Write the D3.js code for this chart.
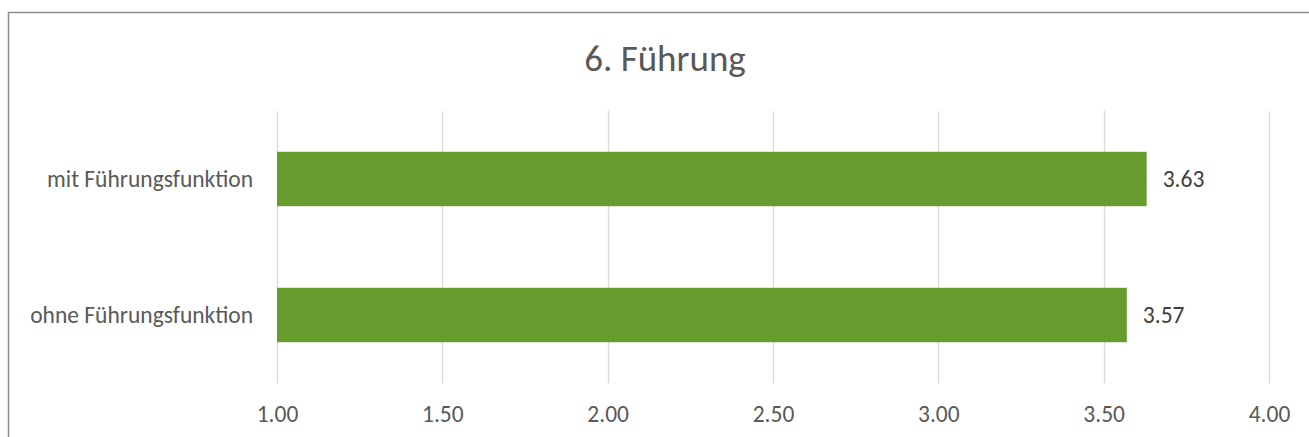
<!DOCTYPE html>
<html><head><meta charset="utf-8">
<script src="https://cdn.jsdelivr.net/npm/d3@7"></script>
<style>body{margin:0;background:#fff;} svg{display:block;} svg text{font-family:Carlito,Calibri,"Open Sans",sans-serif;}</style>
</head><body>
<svg id="c" width="1309" height="437"></svg>
<script>
const categories = ["mit Führungsfunktion", "ohne Führungsfunktion"];
const values = [3.63, 3.57];
const tickValues = [1.0, 1.5, 2.0, 2.5, 3.0, 3.5, 4.0];
const title = "6. Führung";

const svg = d3.select("#c");
svg.append("rect").attr("x", 8.5).attr("y", 12.5).attr("width", 1320).attr("height", 440)
  .attr("fill", "#fff").attr("stroke", "#8c8c8c").attr("stroke-width", 1.5);

const x = d3.scaleLinear().domain([1, 4]).range([277, 1269]);
const y = d3.scaleBand().domain(categories).range([111, 383]).paddingInner(0.6).paddingOuter(0.3);

svg.append("g").selectAll("line").data(tickValues).join("line")
  .attr("x1", d => Math.round(x(d)) + 0.5).attr("x2", d => Math.round(x(d)) + 0.5)
  .attr("y1", 111).attr("y2", 383).attr("stroke", "#d9d9d9").attr("stroke-width", 1.3);

const fs = 23.5;
const xAxis = d3.axisBottom(x).tickValues(tickValues).tickFormat(d3.format(".2f")).tickSize(0).tickPadding(0);
const gx = svg.append("g").attr("transform", "translate(0,414)").call(xAxis)
  .attr("font-family", null).attr("font-size", fs);
gx.select(".domain").remove();
gx.selectAll("text").attr("fill", "#595959").attr("y", 0).attr("dy", "0.35em");

const yAxis = d3.axisLeft(y).tickSize(0).tickPadding(0);
const gy = svg.append("g").attr("transform", "translate(253,0)").call(yAxis)
  .attr("font-family", null).attr("font-size", fs);
gy.select(".domain").remove();
gy.selectAll("text").attr("fill", "#595959");

const data = categories.map((c, i) => ({c, v: values[i]}));
svg.append("g").selectAll("rect").data(data).join("rect")
  .attr("x", x(1)).attr("y", d => y(d.c)).attr("width", d => x(d.v) - x(1)).attr("height", y.bandwidth())
  .attr("fill", "#669b2d");

svg.append("g").selectAll("text").data(data).join("text")
  .attr("x", d => x(d.v) + 16).attr("y", d => y(d.c) + y.bandwidth() / 2).attr("dy", "0.35em")
  .attr("fill", "#404040").attr("font-size", fs).text(d => d.v.toFixed(2));

svg.append("text").attr("x", 665).attr("y", 58).attr("dy", "0.35em").attr("text-anchor", "middle")
  .attr("fill", "#595959").attr("font-size", 37).text(title);
</script>
</body></html>
